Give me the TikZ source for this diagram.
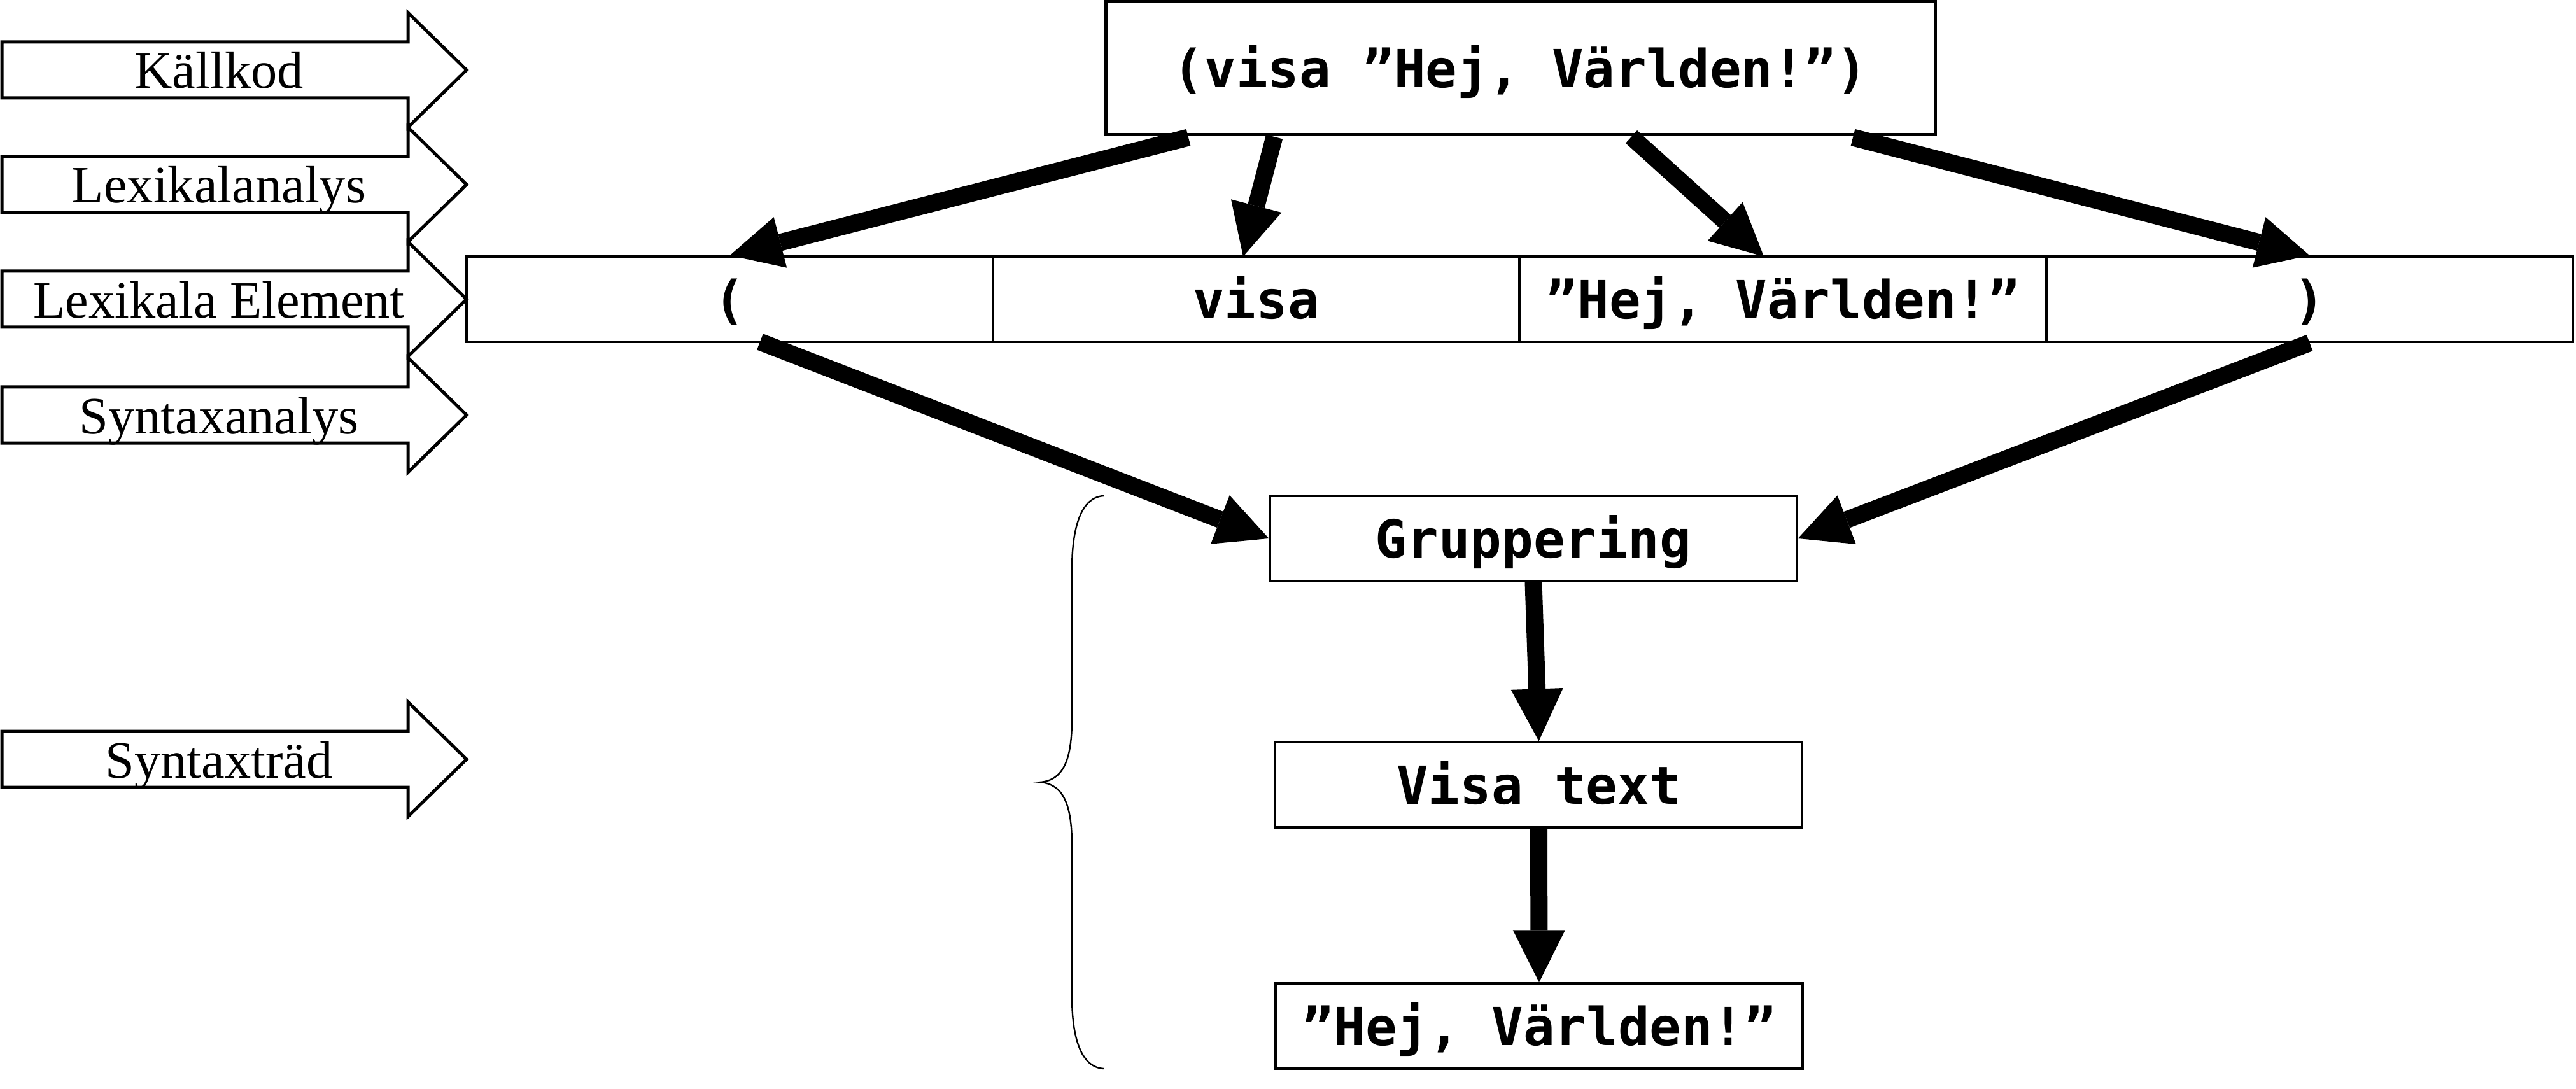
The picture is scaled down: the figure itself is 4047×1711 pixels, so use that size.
\documentclass[tikz,border=0pt]{standalone}
\usepackage{fontspec}
\setmainfont{Liberation Serif}
\newfontfamily\codefont{DejaVu Sans Mono}
\usetikzlibrary{arrows.meta}
\begin{document}
\begin{tikzpicture}[x=0.25pt,y=-0.25pt,
  stage/.style={draw,line width=1.25pt,line join=miter},
  lbl/.style={font=\fontsize{20.6pt}{24pt}\selectfont,inner sep=0pt,anchor=base},
  code/.style={font=\codefont\bfseries\fontsize{20.6pt}{24pt}\selectfont,inner sep=0pt,text height=15pt,text depth=0pt},
  topbox/.style={code,draw,line width=1.25pt,minimum width=325.75pt,minimum height=52.25pt},
  cell/.style={code,draw,line width=0.8pt,minimum width=206.75pt,minimum height=33.5pt},
  treebox/.style={code,draw,line width=0.8pt,minimum width=207pt,minimum height=33.5pt},
  flow/.style={line width=6.75pt,-{Triangle[length=20.5pt,width=20.5pt,line width=0pt]}},
  bracepath/.style={draw,line width=0.6pt},
]
\useasboundingbox (0,0) rectangle (4047,1711);
\foreach \c/\t [count=\i] in {110/Källkod,290/Lexikalanalys,470/Lexikala Element,652/Syntaxanalys,1193/Syntaxträd}{
  \draw[stage] (3,\c-44) -- (641,\c-44) -- (641,\c-90) -- (733,\c) -- (641,\c+90) -- (641,\c+44) -- (3,\c+44) -- cycle;
  \node[lbl] (stage\i) at (344,\c+29) {\t};
}
\node[topbox] (src) at (2388.5,107.5) {(visa ”Hej, Världen!”)};
\node[cell] (c1) at (1146.5,470) {(};
\node[cell] (c2) at (1973.5,470) {visa};
\node[cell] (c3) at (2801,470) {”Hej, Världen!”};
\node[cell] (c4) at (3628.5,470) {)};
\node[treebox] (grp) at (2409,846) {Gruppering};
\node[treebox] (vis) at (2417.5,1233) {Visa text};
\node[treebox] (hej) at (2418,1612) {”Hej, Världen!”};
\coordinate (s1) at (1867,216);
\coordinate (s2) at (2002,215);
\coordinate (s3) at (2563,215);
\coordinate (s4) at (2911,216);
\coordinate (e2) at (1953,403);
\coordinate (e3) at (2771,403);
\coordinate (s5) at (1194,537);
\draw[flow] (s1) -- (c1.north);
\draw[flow] (s2) -- (e2);
\draw[flow] (s3) -- (e3);
\draw[flow] (s4) -- (c4.north);
\draw[flow] (s5) -- (grp.west);
\draw[flow] (c4.south) -- (grp.east);
\draw[flow] (grp.south) -- (vis.north);
\draw[flow] (vis.south) -- (hej.north);
\draw[bracepath] (1734,779) .. controls (1698,781) and (1684,830) .. (1684,895) -- (1684,1130) .. controls (1684,1195) and (1670,1226) .. (1634,1229) .. controls (1670,1232) and (1684,1263) .. (1684,1328) -- (1684,1565) .. controls (1684,1630) and (1698,1677) .. (1734,1679);
\end{tikzpicture}
\end{document}
